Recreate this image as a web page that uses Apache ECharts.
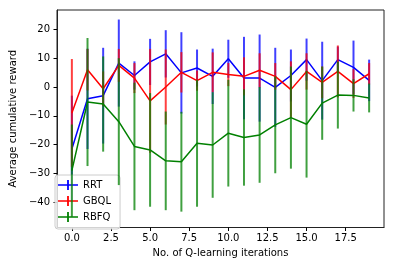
<!DOCTYPE html>
<html>
<head>
<meta charset="utf-8">
<script src="https://cdn.jsdelivr.net/npm/echarts@6/dist/echarts.min.js"></script>
<style>html,body{margin:0;padding:0;background:#fff;}#c{width:394px;height:266px;}</style>
</head>
<body>
<div id="c"></div>
<script>
var iterations = [0,1,2,3,4,5,6,7,8,9,10,11,12,13,14,15,16,17,18,19];
var rrtMean = [-21.5,-4.1,-3.0,8.3,4.0,8.7,11.5,4.9,6.6,3.7,9.8,3.1,3.1,-0.1,4.0,9.5,2.2,9.5,6.8,2.3];
var rrtErr  = [18.5,17.4,16.6,15.1,4.9,8.0,8.2,14.1,6.4,9.6,6.6,14.3,15.1,13.7,9.0,7.3,13.5,4.5,9.3,7.2];
var gbqlMean = [-9.0,6.0,-0.6,7.5,3.1,-4.8,0.0,5.1,2.2,5.1,4.3,3.7,5.8,3.7,-0.9,5.4,1.6,5.4,1.2,4.6];
var gbqlErr  = [18.7,7.2,6.0,5.7,5.2,18.0,13.0,7.0,3.5,6.9,4.0,6.6,5.9,4.6,9.8,6.3,5.5,9.0,5.0,3.7];
var rbfqMean = [-29.0,-5.2,-5.9,-12.0,-20.6,-21.8,-25.6,-25.9,-19.5,-20.1,-16.0,-17.5,-16.6,-13.1,-10.6,-12.9,-5.6,-2.8,-2.9,-3.8];
var rbfqErr  = [16.0,22.2,16.5,22.0,22.1,19.7,17.1,17.3,22.0,18.3,18.5,16.7,16.6,16.8,17.7,18.5,12.7,11.6,5.6,5.0];
var xTicks = [0,2.5,5,7.5,10,12.5,15,17.5];
var yTicks = [-40,-30,-20,-10,0,10,20];
var seriesNames = ['RRT','GBQL','RBFQ'];

var lineColors = ['#0000ff','#ff0000','#008000'];
var barColors = ['rgba(0,0,255,0.75)','rgba(255,0,0,0.75)','rgba(0,128,0,0.75)'];
var means = [rrtMean, gbqlMean, rbfqMean];
var errs = [rrtErr, gbqlErr, rbfqErr];

function fmtMinus(s){ return String(s).replace('-', '\u2212'); }

var series = [];
seriesNames.forEach(function(name, k){
  var errData = iterations.map(function(x, i){
    return [x, means[k][i] - errs[k][i], means[k][i] + errs[k][i]];
  });
  series.push({
    name: name,
    type: 'custom',
    data: errData,
    encode: {x: 0, y: [1, 2]},
    itemStyle: {color: lineColors[k]},
    z: 2 + k * 2,
    renderItem: (function(col){
      return function(params, api){
        var p1 = api.coord([api.value(0), api.value(1)]);
        var p2 = api.coord([api.value(0), api.value(2)]);
        return {
          type: 'line',
          shape: {x1: p1[0], y1: p1[1], x2: p2[0], y2: p2[1]},
          style: {stroke: col, lineWidth: 2}
        };
      };
    })(barColors[k])
  });
  series.push({
    name: name,
    type: 'line',
    data: iterations.map(function(x, i){ return [x, means[k][i]]; }),
    showSymbol: false,
    symbol: 'none',
    lineStyle: {color: lineColors[k], width: 1.5},
    itemStyle: {color: lineColors[k]},
    z: 3 + k * 2
  });
});

var legendIcon = 'path://M0,4.2L20,4.2L20,5.8L0,5.8ZM9.1,0L10.9,0L10.9,10L9.1,10Z';

var chart = echarts.init(document.getElementById('c'), null, {renderer: 'canvas'});
chart.setOption({
  animation: false,
  backgroundColor: '#fff',
  textStyle: {fontFamily: 'DejaVu Sans'},
  grid: {left: 50, right: 10, top: 10, bottom: 38.5, show: true, borderColor: '#222', borderWidth: 1, backgroundColor: 'transparent'},
  legend: {
    left: 55, top: 175,
    orient: 'vertical',
    icon: legendIcon,
    itemWidth: 20, itemHeight: 10, itemGap: 4,
    padding: [4, 9, 6, 3],
    backgroundColor: 'rgba(255,255,255,0.8)',
    borderColor: '#cccccc', borderWidth: 1, borderRadius: 3,
    textStyle: {fontFamily: 'DejaVu Sans', fontSize: 10, color: '#000', lineHeight: 12},
    data: seriesNames.map(function(n, k){ return {name: n, itemStyle: {color: lineColors[k]}}; })
  },
  xAxis: {
    type: 'value', min: -0.95, max: 19.95,
    name: 'No. of Q-learning iterations',
    nameLocation: 'middle', nameGap: 20,
    nameTextStyle: {fontFamily: 'DejaVu Sans', fontSize: 10, color: '#000'},
    axisLine: {show: true, onZero: false, lineStyle: {color: '#222', width: 1}},
    axisTick: {show: true, inside: false, length: 3.5, customValues: xTicks, lineStyle: {color: '#000', width: 1}},
    axisLabel: {customValues: xTicks, margin: 6, fontFamily: 'DejaVu Sans', fontSize: 10, color: '#000',
      formatter: function(v){ return fmtMinus(Number(v).toFixed(1)); }},
    splitLine: {show: false}
  },
  yAxis: {
    type: 'value', min: -48.7, max: 26.7,
    name: 'Average cumulative reward',
    nameLocation: 'middle', nameGap: 34, nameRotate: 90,
    nameTextStyle: {fontFamily: 'DejaVu Sans', fontSize: 10, color: '#000'},
    axisLine: {show: true, onZero: false, lineStyle: {color: '#222', width: 1}},
    axisTick: {show: true, inside: false, length: 3.5, customValues: yTicks, lineStyle: {color: '#000', width: 1}},
    axisLabel: {customValues: yTicks, margin: 7, fontFamily: 'DejaVu Sans', fontSize: 10, color: '#000',
      formatter: function(v){ return fmtMinus(Math.round(v)); }},
    splitLine: {show: false}
  },
  series: series
});
</script>
</body>
</html>
